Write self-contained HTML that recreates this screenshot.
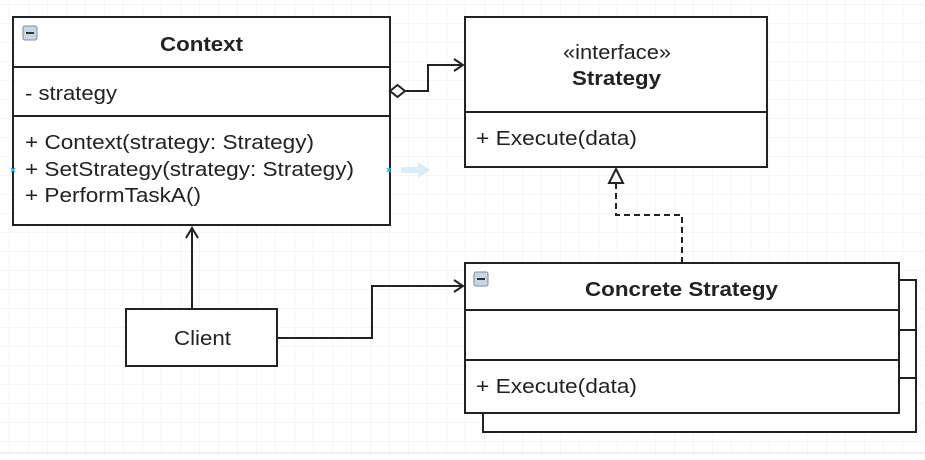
<!DOCTYPE html>
<html><head><style>
body{margin:0;width:925px;height:455px;overflow:hidden;background:#fff;}
svg text{font-family:"Liberation Sans",Arial,sans-serif;fill:#222;}
</style></head><body>
<svg width="925" height="455" xmlns="http://www.w3.org/2000/svg">
<defs>
<pattern id="g" x="10" y="5" width="19" height="19" patternUnits="userSpaceOnUse">
<path d="M19 0V19M0 19H19" stroke="#ececec" stroke-width="1" fill="none"/>
</pattern>
</defs>
<rect width="925" height="455" fill="url(#g)"/>
<line x1="0" y1="453" x2="925" y2="453" stroke="#d6e2ea"/>
<g stroke="#222" stroke-width="2" fill="#fff">
<rect x="483" y="280" width="433" height="152"/>
<line x1="899" y1="330" x2="916" y2="330"/>
<line x1="899" y1="378" x2="916" y2="378"/>
<rect x="465" y="263" width="434" height="150"/>
<line x1="465" y1="310" x2="899" y2="310"/>
<line x1="465" y1="360" x2="899" y2="360"/>
<rect x="13" y="17" width="377" height="208"/>
<line x1="13" y1="67" x2="390" y2="67"/>
<line x1="13" y1="116" x2="390" y2="116"/>
<rect x="465" y="17" width="302" height="150"/>
<line x1="465" y1="112" x2="767" y2="112"/>
<rect x="126" y="309" width="151" height="57"/>
</g>
<g stroke="#222" stroke-width="2" fill="none">
<path d="M405 91H428V65H462"/>
<path d="M454 59L463 65L454 71"/>
<path d="M390 91L397.5 85L405 91L397.5 97Z" fill="#fff"/>
<path d="M192 309V228"/>
<path d="M186 238L192 228L198 238"/>
<path d="M277 338H372V286H462"/>
<path d="M454 280L463 286L454 292"/>
<path d="M616 183V215H682V263" stroke-dasharray="6,4"/>
<path d="M616 169L623 183H609Z" fill="#fff"/>
</g>
<g stroke="#2bb6e8" stroke-width="1.5">
<path d="M11 168l4 4M15 168l-4 4M387 168l4 4M391 168l-4 4"/>
</g>
<path d="M401 167H418V162L430 170L418 178V173H401Z" fill="#d6eef9"/>
<g>
<rect x="23" y="26" width="14" height="14" rx="2" fill="#c8d6e4" stroke="#7a8ea4"/>
<rect x="26" y="32" width="8" height="2" fill="#333"/>
<rect x="474" y="272" width="14" height="14" rx="2" fill="#c8d6e4" stroke="#7a8ea4"/>
<rect x="477" y="278" width="8" height="2" fill="#333"/>
</g>
<text x="160" y="51" font-size="20" font-weight="bold" textLength="83" lengthAdjust="spacingAndGlyphs">Context</text>
<text x="25" y="100" font-size="20" textLength="92" lengthAdjust="spacingAndGlyphs">- strategy</text>
<text x="25" y="149" font-size="20" textLength="289" lengthAdjust="spacingAndGlyphs">+ Context(strategy: Strategy)</text>
<text x="25" y="176" font-size="20" textLength="329" lengthAdjust="spacingAndGlyphs">+ SetStrategy(strategy: Strategy)</text>
<text x="25" y="202" font-size="20" textLength="176" lengthAdjust="spacingAndGlyphs">+ PerformTaskA()</text>
<text x="563" y="59" font-size="20" textLength="108" lengthAdjust="spacingAndGlyphs">«interface»</text>
<text x="572" y="85" font-size="20" font-weight="bold" textLength="89" lengthAdjust="spacingAndGlyphs">Strategy</text>
<text x="476" y="145" font-size="20" textLength="161" lengthAdjust="spacingAndGlyphs">+ Execute(data)</text>
<text x="585" y="296" font-size="20" font-weight="bold" textLength="193" lengthAdjust="spacingAndGlyphs">Concrete Strategy</text>
<text x="476" y="393" font-size="20" textLength="161" lengthAdjust="spacingAndGlyphs">+ Execute(data)</text>
<text x="174" y="345" font-size="20" textLength="57" lengthAdjust="spacingAndGlyphs">Client</text>
</svg>
</body></html>
